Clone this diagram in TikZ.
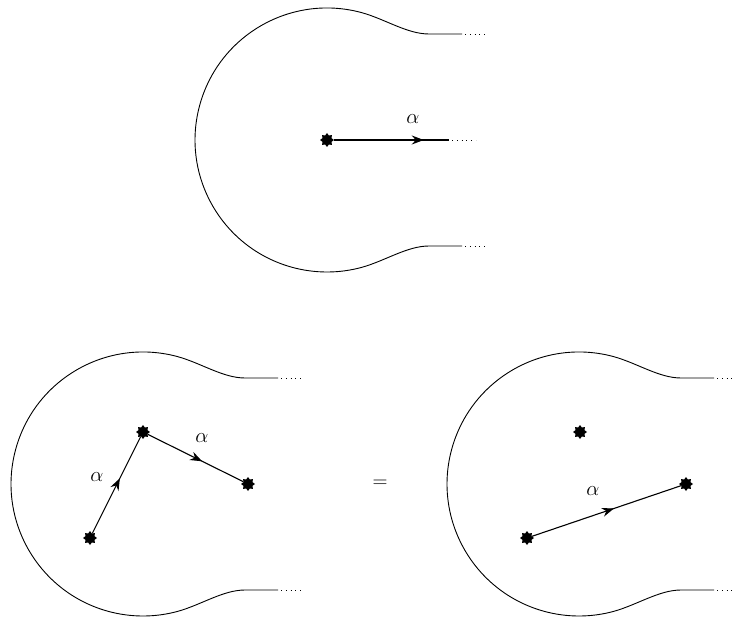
\documentclass[tikz,border=0pt]{standalone}
\usetikzlibrary{shapes.geometric,arrows.meta,decorations.markings}
\tikzset{
  pt/.style={star, star points=8, star point ratio=1.45, fill=black, inner sep=0pt, minimum size=14pt},
  bulbline/.style={line width=0.9pt},
  conn/.style={line width=1.1pt},
  midarrow/.style={decoration={markings, mark=at position #1 with {\arrow{Stealth[length=12pt,width=9pt,inset=4pt]}}}, postaction={decorate}},
  dotsline/.style={line width=0.8pt, dash pattern=on 0.8pt off 4pt},
  lab/.style={font=\fontsize{20}{24}\selectfont, inner sep=0pt},
  pics/bulb/.style={code={
    \draw[bulbline] (135,106) -- (102,106) .. controls (80,106) and (58,121) .. (34.2,127.5)
      arc[start angle=75, end angle=285, radius=132pt]
      .. controls (58,-121) and (80,-106) .. (102,-106) -- (135,-106);
    \draw[dotsline] (138,106) -- (161,106);
    \draw[dotsline] (138,-106) -- (161,-106);
  }}
}
\begin{document}
\begin{tikzpicture}[x=1pt,y=1pt]
\useasboundingbox (0,0) rectangle (733,622);
% top
\pic at (327,482) {bulb};
\node[pt] (s0) at (327,482) {};
\coordinate (e0) at (449,482);
\coordinate (d0) at (476,482);
\draw[conn, midarrow=0.78] (s0) -- (e0);
\draw[dotsline] (452,482) -- (d0);
\node[lab] (l0) at (413,503) {$\alpha$};
% bottom left
\pic at (143,138) {bulb};
\node[pt] (a1) at (143,190) {};
\node[pt] (b1) at (248,138) {};
\node[pt] (c1) at (90,84) {};
\draw[conn, midarrow=0.57] (c1) -- (a1);
\draw[conn, midarrow=0.57] (a1) -- (b1);
\node[lab] (l1) at (97,145) {$\alpha$};
\node[lab] (l2) at (202,184) {$\alpha$};
% equals
\node[lab] (eq) at (380,138) {$=$};
% bottom right
\pic at (579,138) {bulb};
\node[pt] (a2) at (580,190) {};
\node[pt] (b2) at (686,138) {};
\node[pt] (c2) at (527,84) {};
\draw[conn, midarrow=0.55] (c2) -- (b2);
\node[lab] (l3) at (593,131) {$\alpha$};
\end{tikzpicture}
\end{document}
